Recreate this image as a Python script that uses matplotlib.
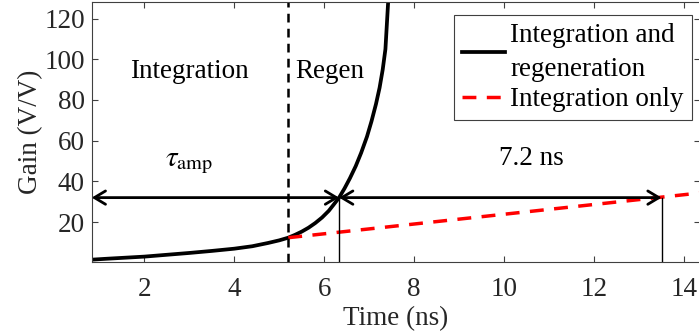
import numpy as np
from matplotlib import pyplot as plt

plt.rcParams['font.family'] = ['Liberation Serif', 'DejaVu Serif']
plt.rcParams['mathtext.fontset'] = 'stix'

# black curve: integration + regeneration
t_total = [0.83, 1.2, 1.6, 2.0, 2.5, 3.0, 3.5, 4.0, 4.4, 4.75, 5.0, 5.2,
           5.35, 5.5, 5.65, 5.8, 5.95, 6.1, 6.2, 6.33, 6.45, 6.57, 6.7, 6.82,
           6.95, 7.05, 7.15, 7.23, 7.3, 7.36, 7.42]
g_total = [1.5, 2.0, 2.5, 3.0, 3.9, 4.8, 5.8, 6.9, 8.1, 9.7, 11.0, 12.3,
           13.7, 15.3, 17.2, 19.5, 22.2, 25.5, 28.3, 32.0, 36.5, 41.5, 47.5, 54.0,
           62.0, 69.5, 78.0, 86.0, 95.0, 105.0, 128.0]

# red dashed: integration only
t_int = [5.2, 14.4]
g_int = [12.3, 34.4]

t_switch = 5.2      # start of regeneration
t_cross = 6.33      # gain reaches target
t_int_cross = 13.5  # integration only reaches target
g_target = 32.0

fig = plt.figure(figsize=(6.99, 3.35), dpi=100)
ax = fig.add_axes([0.1312, 0.2188, 0.8700, 0.7743])

ax.plot(t_total, g_total, color='k', lw=2.7, label='Integration and\nregeneration')
ax.plot(t_int, g_int, color='r', lw=2.5, ls=(0, (4, 3)), label='Integration only')

ax.axvline(t_switch, color='k', lw=1.8, ls=(0, (3.5, 2.5)))
ax.plot([t_cross, t_cross], [0, g_target], color='k', lw=1)
ax.plot([t_int_cross, t_int_cross], [0, g_target], color='k', lw=1)

arrow = dict(arrowstyle='<->, head_length=0.5, head_width=0.3', lw=2, color='k',
             mutation_scale=16, shrinkA=0, shrinkB=0)
ax.annotate('', xy=(t_cross, g_target), xytext=(0.83, g_target), arrowprops=arrow)
ax.annotate('', xy=(t_int_cross, g_target), xytext=(t_cross, g_target), arrowprops=arrow)

ax.text(3.0, 94, 'Integration', fontsize=19.5, ha='center', va='center')
ax.text(6.13, 94, 'Regen', fontsize=19.5, ha='center', va='center')
ax.text(3.0, 49, r'$\tau_{\rm amp}$', fontsize=21, ha='center', va='center')
ax.text(10.6, 51, '7.2 ns', fontsize=19.5, ha='center', va='center')

ax.set_xlim(0.83, 14.35)
ax.set_ylim(0.5, 128)
ax.set_xticks([2, 4, 6, 8, 10, 12, 14])
ax.set_yticks([20, 40, 60, 80, 100, 120])
ax.tick_params(direction='in', top=True, right=True, labelsize=19.5, length=4,
               color='0.25', labelcolor='0.15')
ax.tick_params(axis='x', pad=11)
ax.tick_params(axis='y', pad=5)
for s in ax.spines.values():
    s.set_color('0.25')
ax.set_xlabel('Time (ns)', fontsize=19.5, color='0.15', labelpad=3)
ax.set_ylabel('Gain (V/V)', fontsize=19.5, color='0.15', labelpad=1)

leg = ax.legend(loc='upper right', bbox_to_anchor=(692/699, 1 - 15/335),
                bbox_transform=fig.transFigure, borderaxespad=0, fontsize=19.5,
                fancybox=False, framealpha=1, edgecolor='0.25', handlelength=1.6,
                handletextpad=0.2, labelspacing=0.2, borderpad=0.3)
for txt in leg.get_texts():
    txt.set_linespacing(1.45)
leg.get_frame().set_linewidth(0.8)

fig.savefig('out.png', dpi=100)
